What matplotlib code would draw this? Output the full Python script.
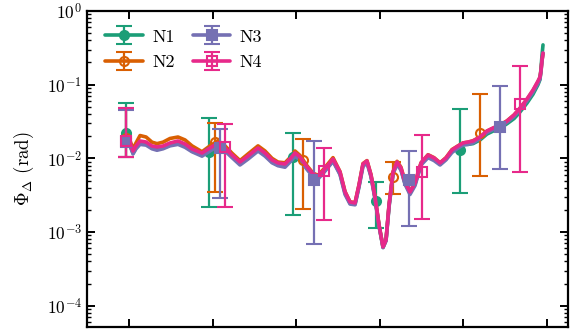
import numpy as np
import matplotlib
matplotlib.use("Agg")
import matplotlib.pyplot as plt
from matplotlib.legend_handler import HandlerTuple

plt.rcParams.update({
    "font.family": "serif",
    "font.serif": ["cmr10"],
    "mathtext.fontset": "cm",
    "axes.formatter.use_mathtext": True,
    "axes.unicode_minus": False,
})

# ---------------- data ----------------
labels = ["N1", "N2", "N3", "N4"]
colors = ["#1b9e77", "#d95f02", "#7570b3", "#e7298a"]
markers = ["o", "o", "s", "s"]
filled = [True, False, True, False]

curve_x = [0.012, 0.048, 0.084, 0.132, 0.204, 0.275, 0.335, 0.407, 0.491, 0.587,
           0.671, 0.754, 0.874, 0.970, 1.066, 1.150, 1.234, 1.329, 1.425, 1.545,
           1.629, 1.713, 1.784, 1.868, 1.928, 1.988, 2.048, 2.132, 2.204, 2.263,
           2.335, 2.443, 2.527, 2.587, 2.647, 2.707, 2.754, 2.802, 2.850, 2.898,
           2.946, 2.994, 3.042, 3.078, 3.114, 3.162, 3.210, 3.257, 3.305, 3.365,
           3.425, 3.497, 3.581, 3.653, 3.725, 3.796, 3.868, 3.940, 4.000, 4.060,
           4.120, 4.204, 4.287, 4.359, 4.443, 4.527, 4.611, 4.683, 4.766, 4.838,
           4.898, 4.922, 4.934, 4.946, 4.958]

# log10 of Phi_Delta along each curve
logphi_N1 = [-1.82, -1.93, -1.86, -1.79, -1.80, -1.86, -1.87, -1.86, -1.82, -1.79,
             -1.83, -1.90, -1.95, -1.88, -1.82, -1.88, -1.98, -2.07, -1.99, -1.88,
             -1.95, -2.05, -2.09, -2.10, -2.03, -1.95, -2.00, -2.14, -2.23, -2.26,
             -2.18, -2.03, -2.21, -2.47, -2.61, -2.62, -2.38, -2.09, -2.05, -2.24,
             -2.54, -2.91, -3.21, -3.11, -2.65, -2.20, -2.06, -2.15, -2.34, -2.47,
             -2.35, -2.08, -1.97, -2.01, -2.08, -2.01, -1.90, -1.85, -1.81, -1.81,
             -1.80, -1.75, -1.67, -1.63, -1.59, -1.53, -1.46, -1.37, -1.25, -1.13,
             -1.00, -0.93, -0.78, -0.60, -0.46]
logphi_N2 = [-1.76, -1.87, -1.79, -1.69, -1.71, -1.78, -1.80, -1.78, -1.73, -1.71,
             -1.75, -1.83, -1.91, -1.83, -1.76, -1.83, -1.93, -2.03, -1.94, -1.83,
             -1.90, -2.00, -2.05, -2.06, -1.99, -1.90, -1.96, -2.10, -2.20, -2.23,
             -2.14, -1.99, -2.18, -2.45, -2.59, -2.60, -2.36, -2.07, -2.03, -2.22,
             -2.52, -2.90, -3.20, -3.10, -2.63, -2.18, -2.04, -2.12, -2.31, -2.45,
             -2.33, -2.06, -1.95, -1.99, -2.06, -1.99, -1.88, -1.83, -1.79, -1.78,
             -1.76, -1.71, -1.63, -1.59, -1.55, -1.49, -1.41, -1.32, -1.20, -1.08,
             -0.96, -0.90, -0.81, -0.67, -0.58]
logphi_N3 = [-1.83, -1.94, -1.87, -1.81, -1.82, -1.87, -1.89, -1.87, -1.83, -1.81,
             -1.85, -1.91, -1.97, -1.90, -1.83, -1.90, -1.99, -2.09, -2.01, -1.90,
             -1.97, -2.06, -2.10, -2.12, -2.05, -1.97, -2.02, -2.15, -2.25, -2.28,
             -2.19, -2.04, -2.22, -2.49, -2.62, -2.63, -2.39, -2.11, -2.06, -2.25,
             -2.55, -2.92, -3.21, -3.12, -2.66, -2.21, -2.08, -2.16, -2.35, -2.49,
             -2.37, -2.09, -1.99, -2.03, -2.09, -2.02, -1.92, -1.86, -1.82, -1.81,
             -1.79, -1.73, -1.65, -1.61, -1.57, -1.51, -1.43, -1.34, -1.22, -1.10,
             -0.98, -0.92, -0.82, -0.68, -0.57]
logphi_N4 = [-1.791, -1.900, -1.832, -1.764, -1.778, -1.832, -1.845, -1.832, -1.791, -1.764,
             -1.805, -1.873, -1.927, -1.859, -1.791, -1.859, -1.954, -2.049, -1.968, -1.859,
             -1.927, -2.022, -2.062, -2.076, -2.008, -1.927, -1.981, -2.117, -2.212, -2.239,
             -2.157, -2.008, -2.185, -2.456, -2.592, -2.605, -2.361, -2.076, -2.035, -2.225,
             -2.524, -2.904, -3.202, -3.107, -2.632, -2.185, -2.049, -2.130, -2.320, -2.456,
             -2.334, -2.062, -1.954, -1.995, -2.062, -1.995, -1.886, -1.832, -1.791, -1.778,
             -1.764, -1.710, -1.628, -1.588, -1.547, -1.493, -1.411, -1.316, -1.194, -1.072,
             -0.950, -0.896, -0.801, -0.665, -0.571]

# error-bar points: x, central value, upper and lower ends
pts_x_N1 = [-0.036, 0.958, 1.964, 2.958, 3.964]
pts_x_N2 = [-0.036, 1.030, 2.084, 3.162, 4.204]
pts_x_N3 = [-0.036, 1.090, 2.216, 3.353, 4.443]
pts_x_N4 = [-0.036, 1.150, 2.335, 3.509, 4.683]

pts_y_N1 = [0.0221, 0.0122, 0.01045, 0.00264, 0.0130]
pts_y_N2 = [0.0189, 0.0167, 0.00951, 0.00559, 0.0221]
pts_y_N3 = [0.0167, 0.0138, 0.00509, 0.00509, 0.0267]
pts_y_N4 = [0.0172, 0.0143, 0.00675, 0.00654, 0.0547]

pts_hi_N1 = [0.0565, 0.0353, 0.0221, 0.00478, 0.0468]
pts_hi_N2 = [0.0483, 0.0302, 0.0183, 0.00893, 0.0748]
pts_hi_N3 = [0.0454, 0.0251, 0.0172, 0.0126, 0.0960]
pts_hi_N4 = [0.0483, 0.0293, 0.0138, 0.0208, 0.1794]

pts_lo_N1 = [0.01045, 0.00219, 0.00171, 0.00114, 0.00339]
pts_lo_N2 = [0.01045, 0.00350, 0.00206, 0.00329, 0.00577]
pts_lo_N3 = [0.01045, 0.00290, 0.000689, 0.00121, 0.00718]
pts_lo_N4 = [0.01045, 0.00219, 0.00146, 0.00151, 0.00654]

curves = [logphi_N1, logphi_N2, logphi_N3, logphi_N4]
px = [pts_x_N1, pts_x_N2, pts_x_N3, pts_x_N4]
py = [pts_y_N1, pts_y_N2, pts_y_N3, pts_y_N4]
phi = [pts_hi_N1, pts_hi_N2, pts_hi_N3, pts_hi_N4]
plo = [pts_lo_N1, pts_lo_N2, pts_lo_N3, pts_lo_N4]

# ---------------- figure ----------------
fig = plt.figure(figsize=(5.74, 3.31), dpi=100)
ax = fig.add_axes([0.1516, 0.0121, 0.8379, 0.9547])

handles = []
for i in range(4):
    c = colors[i]
    line, = ax.plot(curve_x, 10 ** np.array(curves[i]), color=c, lw=2.6,
                    solid_capstyle="round", solid_joinstyle="round",
                    zorder=2 + i * 0.1)
    y = np.array(py[i])
    yerr = [y - np.array(plo[i]), np.array(phi[i]) - y]
    eb = ax.errorbar(px[i], y, yerr=yerr, fmt=markers[i], color=c,
                     mfc=c if filled[i] else "none", mec=c, mew=1.5,
                     ms=6.5, elinewidth=1.6, capsize=5.5, capthick=1.6,
                     zorder=2.05 + i * 0.1)
    handles.append((line, eb))

ax.set_yscale("log")
ax.set_ylim(5.15e-5, 1.0)
ax.set_xlim(-0.503, 5.257)
ax.set_xticks([0, 1, 2, 3, 4, 5])
ax.set_xticklabels([])
ax.set_ylabel(r"$\Phi_\Delta$ (rad)", fontsize=13.5, labelpad=8)

for s in ax.spines.values():
    s.set_linewidth(1.6)
ax.tick_params(which="both", direction="in", top=True, right=True, labelsize=12.5)
ax.tick_params(which="major", length=6, width=1.4)
ax.tick_params(which="minor", length=3, width=1.0)
ax.tick_params(axis="x", which="minor", bottom=False, top=False)

ax.legend(handles, labels, handler_map={tuple: HandlerTuple(ndivide=1)},
          loc="upper left", ncol=2, frameon=False, fontsize=13,
          handlelength=2.1, handletextpad=0.5, columnspacing=1.0,
          labelspacing=0.55, borderaxespad=0.6)

fig.savefig("out.png", dpi=100)
